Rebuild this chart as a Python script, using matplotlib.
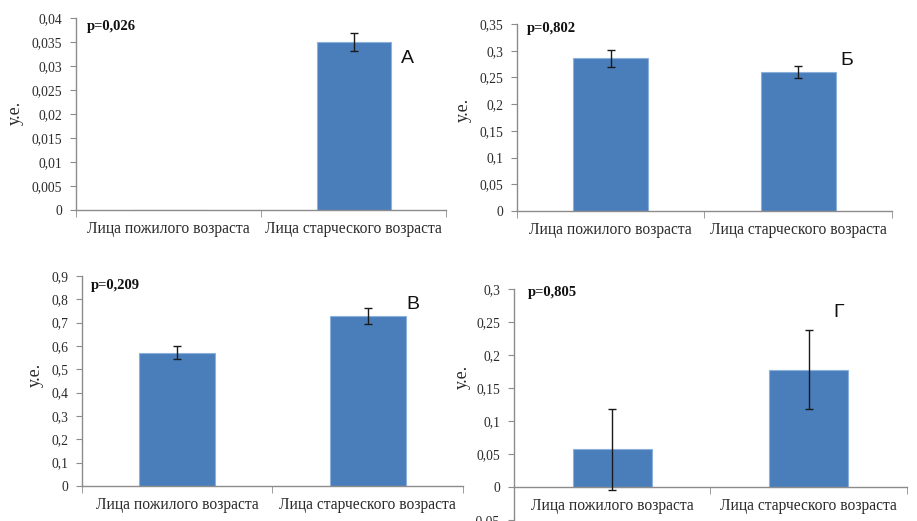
import matplotlib
matplotlib.use("Agg")
import matplotlib.pyplot as plt
from matplotlib.ticker import MultipleLocator, FuncFormatter, FixedLocator

CATEGORIES = ["Лица пожилого возраста", "Лица старческого возраста"]

VALUES_A = [0.0, 0.035]
ERRORS_A = [0.0, 0.0018]

VALUES_B = [0.286, 0.260]
ERRORS_B = [0.016, 0.011]

VALUES_V = [0.571, 0.729]
ERRORS_V = [0.028, 0.035]

VALUES_G = [0.057, 0.178]
ERRORS_G = [0.061, 0.060]

P_VALUES = ["p=0,026", "p=0,802", "p=0,209", "p=0,805"]
LETTERS = ["А", "Б", "В", "Г"]

BAR_COLOR = "#4A7EBB"
EDGE_COLOR = "#8CB0DC"
AXIS_COLOR = "#8C8C8C"
TEXT_COLOR = "#2B2B2B"
SERIF = "Liberation Serif"
SANS = "Liberation Sans"


def comma_fmt(v, pos):
    return "{:g}".format(round(v, 6)).replace(".", ",")


def draw_panel(ax, values, errors, ylim, step, p_text, p_xy, letter, letter_xy, ylabel_xy,
               zero_spine=False):
    for s in ["top", "right"]:
        ax.spines[s].set_visible(False)
    for s in ["left", "bottom"]:
        ax.spines[s].set_color(AXIS_COLOR)
        ax.spines[s].set_linewidth(1.0)
    if zero_spine:
        ax.spines["bottom"].set_position(("data", 0))

    x = list(range(len(values)))
    ax.bar(x, values, width=0.4, color=BAR_COLOR, edgecolor=EDGE_COLOR, linewidth=0.8, zorder=2)
    # skip error bars for empty groups
    ex = [i for i in x if errors[i] > 0]
    ax.errorbar(ex, [values[i] for i in ex], yerr=[errors[i] for i in ex], fmt="none",
                ecolor="#1a1a1a", elinewidth=1.0, capsize=3, capthick=1.0, zorder=3)
    ax.set_xlim(-0.5, 1.5)
    ax.set_ylim(*ylim)
    ax.yaxis.set_major_locator(MultipleLocator(step))
    ax.yaxis.set_major_formatter(FuncFormatter(comma_fmt))

    ax.xaxis.set_major_locator(FixedLocator([0, 1]))
    ax.xaxis.set_major_formatter(FuncFormatter(lambda v, pos: CATEGORIES[int(round(v))]))
    ax.xaxis.set_minor_locator(FixedLocator([-0.5, 0.5, 1.5]))
    ax.tick_params(axis="x", which="major", length=0, pad=8, labelsize=11.2,
                   labelcolor=TEXT_COLOR, labelfontfamily=SERIF)
    ax.tick_params(axis="x", which="minor", length=5, color=AXIS_COLOR, direction="out")
    ax.tick_params(axis="y", length=4, color=AXIS_COLOR, direction="out", pad=6,
                   labelsize=9.8, labelcolor=TEXT_COLOR, labelfontfamily=SERIF)

    ax.set_ylabel("у.е.", fontsize=13, family=SERIF, color=TEXT_COLOR)
    ax.yaxis.set_label_coords(*ylabel_xy)

    ax.text(p_xy[0], p_xy[1], p_text, transform=ax.transAxes, fontsize=10.5, family=SERIF,
            fontweight="bold", color="#111111", ha="left", va="center")
    ax.text(letter_xy[0], letter_xy[1], letter, transform=ax.transAxes, fontsize=14,
            family=SANS, color="#111111", ha="center", va="center")


fig = plt.figure(figsize=(9.17, 5.21), dpi=100)

ax_a = fig.add_axes([0.0829, 0.597, 0.4035, 0.3685])
ax_b = fig.add_axes([0.5638, 0.595, 0.4089, 0.3589])
ax_v = fig.add_axes([0.0894, 0.0672, 0.4155, 0.4031])
ax_g = fig.add_axes([0.5605, 0.0019, 0.4286, 0.4434])

draw_panel(ax_a, VALUES_A, ERRORS_A, (0, 0.04), 0.005, P_VALUES[0], (0.03, 0.955),
           LETTERS[0], (0.897, 0.79), (-0.14, 0.505))
draw_panel(ax_b, VALUES_B, ERRORS_B, (0, 0.35), 0.05, P_VALUES[1], (0.027, 0.975),
           LETTERS[1], (0.88, 0.807), (-0.12, 0.54))
draw_panel(ax_v, VALUES_V, ERRORS_V, (0, 0.9), 0.1, P_VALUES[2], (0.024, 0.957),
           LETTERS[2], (0.869, 0.862), (-0.1, 0.53))
draw_panel(ax_g, VALUES_G, ERRORS_G, (-0.05, 0.3), 0.05, P_VALUES[3], (0.036, 0.983),
           LETTERS[3], (0.827, 0.897), (-0.11, 0.62), zero_spine=True)

fig.savefig("out.png", dpi=100, facecolor="white")
